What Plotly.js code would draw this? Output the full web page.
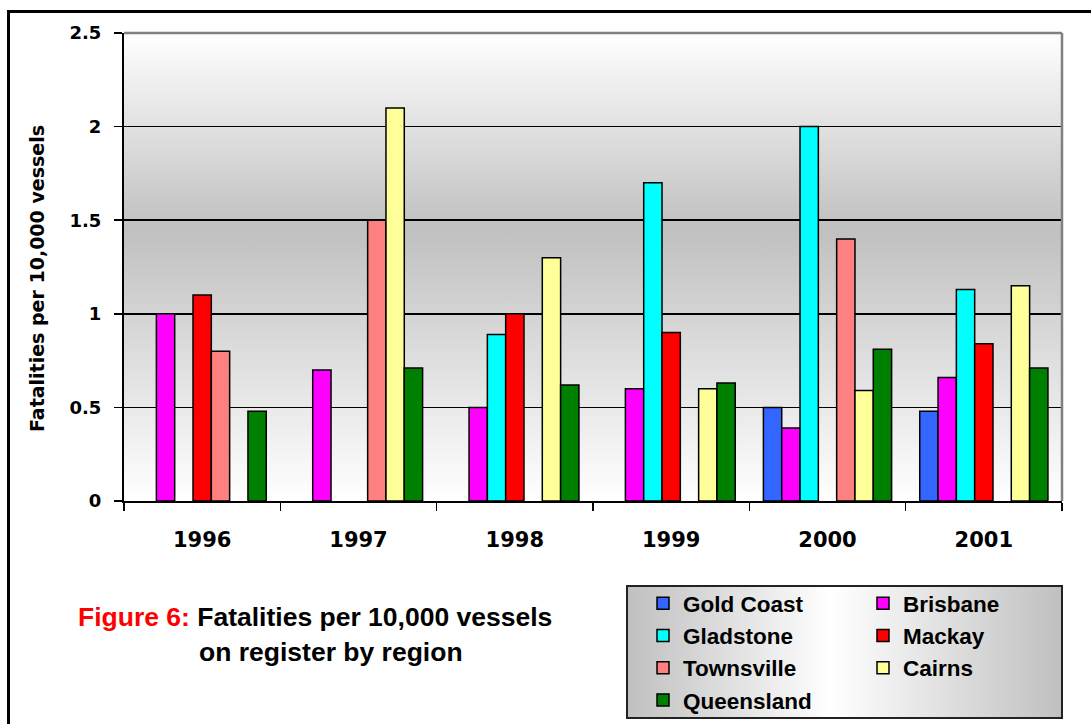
<!DOCTYPE html>
<html>
<head>
<meta charset="utf-8">
<script src="https://cdn.plot.ly/plotly-3.0.1.min.js"></script>
<style>
  html, body { margin: 0; padding: 0; width: 1091px; height: 724px; overflow: hidden; background: #ffffff; }
  #frame { position: absolute; left: 7px; top: 10px; width: 1200px; height: 900px; border-left: 3px solid #000; border-top: 3px solid #000; }
  #plotbg { position: absolute; left: 124px; top: 33px; width: 938px; height: 468px;
    background: linear-gradient(to bottom, #ffffff 0%, #c0c0c0 42%, #ffffff 100%); }
  #legbg { position: absolute; left: 626px; top: 585px; width: 433px; height: 130px; border: 2px solid #222;
    background: linear-gradient(to right, #c0c0c0 0%, #ffffff 47%, #c0c0c0 100%); }
  #chart { position: absolute; left: 0; top: 0; width: 1091px; height: 724px; }
</style>
</head>
<body>
<div id="frame"></div>
<div id="plotbg"></div>
<div id="legbg"></div>
<div id="chart"></div>
<script>
const years = ['1996', '1997', '1998', '1999', '2000', '2001'];
const regions = ['Gold Coast', 'Brisbane', 'Gladstone', 'Mackay', 'Townsville', 'Cairns', 'Queensland'];
const goldCoast  = [null, null, null, null, 0.50, 0.48];
const brisbane   = [1.00, 0.70, 0.50, 0.60, 0.39, 0.66];
const gladstone  = [null, null, 0.89, 1.70, 2.00, 1.13];
const mackay     = [1.10, null, 1.00, 0.90, null, 0.84];
const townsville = [0.80, 1.50, null, null, 1.40, null];
const cairns     = [null, 2.10, 1.30, 0.60, 0.59, 1.15];
const queensland = [0.48, 0.71, 0.62, 0.63, 0.81, 0.71];
const seriesValues = [goldCoast, brisbane, gladstone, mackay, townsville, cairns, queensland];
const colors = ['#3366FF', '#FF00FF', '#00FFFF', '#FF0000', '#FF8080', '#FFFF99', '#008000'];
const legendColumn = ['legend', 'legend2', 'legend', 'legend2', 'legend', 'legend2', 'legend'];

const FONT = 'Liberation Sans, Arial, sans-serif';
const AXFONT = 'DejaVu Sans, Liberation Sans, sans-serif';
const W = 1091, H = 724;
const M = { l: 124, r: 29, t: 33, b: 223, autoexpand: false };
const pw = W - M.l - M.r, ph = H - M.t - M.b;
const px2x = x => (x - M.l) / pw;
const py2y = y => (H - M.b - y) / ph;

const traces = regions.map((name, i) => ({
  type: 'bar',
  name: name,
  x: years,
  y: seriesValues[i],
  legend: legendColumn[i],
  marker: { color: colors[i], line: { color: '#000', width: 1.5 } },
  hoverinfo: 'x+y+name'
}));

const legendStyle = (xpx) => ({
  orientation: 'v',
  x: px2x(xpx), xanchor: 'left',
  y: py2y(582), yanchor: 'top',
  bgcolor: 'rgba(0,0,0,0)',
  borderwidth: 0,
  traceorder: 'normal',
  font: { family: FONT, size: 22.5, color: '#000', weight: 'bold' }
});

const layout = {
  width: W, height: H,
  margin: M,
  paper_bgcolor: 'rgba(0,0,0,0)',
  plot_bgcolor: 'rgba(0,0,0,0)',
  barmode: 'group',
  bargap: 0.18,
  bargroupgap: 0,
  font: { family: FONT, color: '#000' },
  xaxis: {
    type: 'category',
    tickson: 'boundaries',
    ticks: 'outside', ticklen: 8, tickwidth: 1.5, tickcolor: '#000',
    showline: true, linecolor: '#000', linewidth: 2,
    showgrid: false,
    tickfont: { family: AXFONT, size: 21, color: '#000', weight: 'bold' },
    ticklabelstandoff: 19,
    automargin: false,
    fixedrange: true
  },
  yaxis: {
    range: [0, 2.5],
    dtick: 0.5,
    tick0: 0,
    ticks: 'outside', ticklen: 8, tickwidth: 1.5, tickcolor: '#000',
    showline: true, linecolor: '#000', linewidth: 2,
    showgrid: true, gridcolor: '#000', gridwidth: 1.5,
    zeroline: false,
    tickfont: { family: AXFONT, size: 18, color: '#000', weight: 'bold' },
    ticklabelstandoff: 9,
    automargin: false,
    fixedrange: true
  },
  showlegend: true,
  legend: legendStyle(643),
  legend2: legendStyle(863),
  shapes: [
    { type: 'line', xref: 'paper', yref: 'paper', x0: 0, x1: 1, y0: 1, y1: 1, line: { color: '#808080', width: 2.5 }, layer: 'above' },
    { type: 'line', xref: 'paper', yref: 'paper', x0: 1, x1: 1, y0: 0, y1: 1, line: { color: '#808080', width: 2.5 }, layer: 'above' }
  ],
  annotations: [
    { xref: 'paper', yref: 'paper', x: px2x(37), y: py2y(279), xanchor: 'center', yanchor: 'middle', showarrow: false,
      textangle: -90, text: 'Fatalities per 10,000 vessels',
      font: { family: AXFONT, size: 19, color: '#000', weight: 'bold' } },
    { xref: 'paper', yref: 'paper', x: px2x(76), y: py2y(617), xanchor: 'left', yanchor: 'middle', showarrow: false,
      text: '<span style="color:#FF0000">Figure 6:</span> Fatalities per 10,000 vessels',
      font: { family: FONT, size: 26.5, color: '#000', weight: 'bold' } },
    { xref: 'paper', yref: 'paper', x: px2x(197), y: py2y(652), xanchor: 'left', yanchor: 'middle', showarrow: false,
      text: 'on register by region',
      font: { family: FONT, size: 26.5, color: '#000', weight: 'bold' } }
  ]
};

Plotly.newPlot('chart', traces, layout, { displayModeBar: false, staticPlot: true });
</script>
</body>
</html>
